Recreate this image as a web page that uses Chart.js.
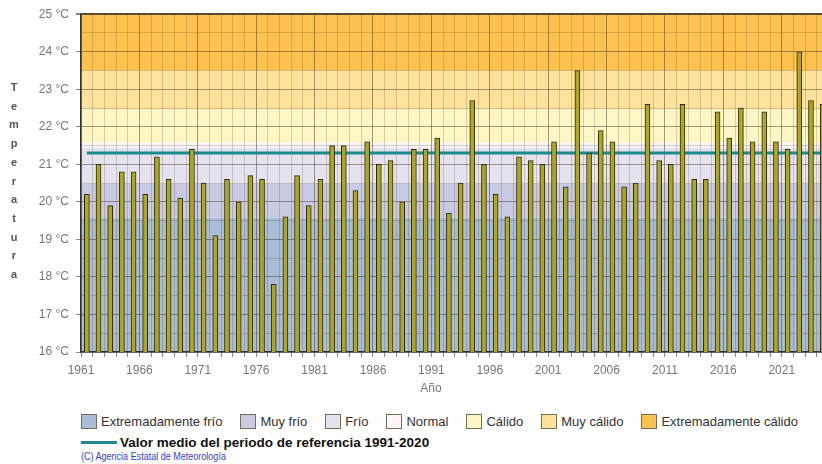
<!DOCTYPE html>
<html>
<head>
<meta charset="utf-8">
<script src="https://cdn.jsdelivr.net/npm/chart.js@4/dist/chart.umd.min.js"></script>
<style>
    body { margin: 0; background: #fff; width: 822px; height: 464px; overflow: hidden; font-family: "Liberation Sans", Arial, sans-serif; }
    #marco { position: absolute; left: 0; top: 0; width: 822px; height: 405px; overflow: hidden; }
    #leyenda { position: absolute; left: 81px; top: 414px; display: flex; align-items: center; font-size: 13px; color: #333; white-space: nowrap; }
    .item { display: flex; align-items: center; margin-right: 18px; }
    .cuadro { width: 14px; height: 13px; border: 1px solid #766b55; margin-right: 4px; }
    #media { position: absolute; left: 81px; top: 435px; display: flex; align-items: center; font-size: 13.5px; font-weight: bold; color: #111; white-space: nowrap; }
    #media .linea { width: 36px; height: 3px; background: #1b8b8e; margin-right: 3px; }
    #copy { position: absolute; left: 81px; top: 450px; font-size: 11px; color: #3d3dcc; white-space: nowrap; transform: scaleX(0.82); transform-origin: left center; }
</style>
</head>
<body>
<div id="marco"><canvas id="myChart" width="842" height="400"></canvas></div>
<div id="leyenda"></div>
<div id="media"><div class="linea"></div>Valor medio del periodo de referencia 1991-2020</div>
<div id="copy">(C) Agencia Estatal de Meteorología</div>
<script>
const years = ["1961", "1962", "1963", "1964", "1965", "1966", "1967", "1968", "1969", "1970",
    "1971", "1972", "1973", "1974", "1975", "1976", "1977", "1978", "1979", "1980",
    "1981", "1982", "1983", "1984", "1985", "1986", "1987", "1988", "1989", "1990",
    "1991", "1992", "1993", "1994", "1995", "1996", "1997", "1998", "1999", "2000",
    "2001", "2002", "2003", "2004", "2005", "2006", "2007", "2008", "2009", "2010",
    "2011", "2012", "2013", "2014", "2015", "2016", "2017", "2018", "2019", "2020",
    "2021", "2022", "2023", "2024"]
const temps = [20.2, 21.0, 19.9, 20.8, 20.8, 20.2, 21.2, 20.6, 20.1, 21.4,
    20.5, 19.1, 20.6, 20.0, 20.7, 20.6, 17.8, 19.6, 20.7, 19.9,
    20.6, 21.5, 21.5, 20.3, 21.6, 21.0, 21.1, 20.0, 21.4, 21.4,
    21.7, 19.7, 20.5, 22.7, 21.0, 20.2, 19.6, 21.2, 21.1, 21.0,
    21.6, 20.4, 23.5, 21.3, 21.9, 21.6, 20.4, 20.5, 22.6, 21.1,
    21.0, 22.6, 20.6, 20.6, 22.4, 21.7, 22.5, 21.6, 22.4, 21.6,
    21.4, 24.0, 22.7, 22.6]
const refMean = 21.3

// limites de las clases (°C) y sus colores
const bandNames = ["Extremadamente frío", "Muy frío", "Frío", "Normal", "Cálido", "Muy cálido", "Extremadamente cálido"]
const bandLimits = [16, 19.58, 20.49, 21.45, 21.58, 22.47, 23.5, 25]
const bandColors = ["#a9bcd8", "#c9cae3", "#e6e3f1", "#fbf6f8", "#fff6c6", "#ffe39c", "#ffc24e"]

const yTicksMin = 16
const yTicksMax = 25

function iniciar_leyenda() {
    const ley = document.getElementById("leyenda")
    bandNames.forEach((n, i) => {
        const it = document.createElement("div")
        it.className = "item"
        it.innerHTML = '<div class="cuadro" style="background:' + bandColors[i] + '"></div>' + n
        ley.appendChild(it)
    })
}

const bandas = {
    id: "bandas",
    beforeDraw(chart) {
        const { ctx, chartArea, scales } = chart
        ctx.save()
        for (let i = 0; i < bandColors.length; i++) {
            const y1 = scales.y.getPixelForValue(bandLimits[i + 1])
            const y0 = scales.y.getPixelForValue(bandLimits[i])
            ctx.fillStyle = bandColors[i]
            ctx.fillRect(chartArea.left, y1, chartArea.right - chartArea.left, y0 - y1)
        }
        ctx.restore()
    },
    afterDraw(chart) {
        const ctx = chart.ctx
        ctx.save()
        ctx.fillStyle = "#555"
        ctx.font = "bold 11px 'Liberation Sans', Arial, sans-serif"
        ctx.textAlign = "center"
        ctx.textBaseline = "middle"
        "Temperatura".split("").forEach((c, i) => ctx.fillText(c, 14, 88 + i * 18.7))
        ctx.fillStyle = "#777"
        ctx.font = "12px 'Liberation Sans', Arial, sans-serif"
        ctx.fillText("Año", 431, 389)
        ctx.restore()
    }
}

function my_bar_chart() {
    new Chart("myChart", {
        type: "bar",
        data: {
            labels: years,
            datasets: [{
                type: "bar",
                data: temps,
                backgroundColor: "#aea624",
                borderColor: "#2e2a06",
                borderWidth: 1,
                borderSkipped: "bottom",
                barThickness: 5,
                order: 0
            }, {
                type: "line",
                data: years.map(() => refMean),
                borderColor: "#1b8b8e",
                borderWidth: 3,
                pointRadius: 0,
                order: 1
            }]
        },
        plugins: [bandas],
        options: {
            responsive: false,
            animation: false,
            layout: { padding: { top: 13, right: 13.5, left: 0, bottom: 0 } },
            scales: {
                x: {
                    offset: true,
                    afterFit: (s) => { s.height = 48 },
                    grid: {
                        offset: true,
                        tickLength: 5,
                        tickColor: "#888",
                        color: (c) => c.index % 5 === 0 ? "rgba(70,60,40,0.5)" : "rgba(70,60,40,0.22)"
                    },
                    border: { color: "#333", width: 1.5 },
                    ticks: {
                        autoSkip: false,
                        maxRotation: 0,
                        minRotation: 0,
                        padding: 6,
                        labelOffset: -5.84,
                        color: "#777",
                        font: { size: 12, family: "'Liberation Sans', Arial, sans-serif" },
                        callback: (v, i) => i % 5 === 0 ? years[i] : ""
                    }
                },
                y: {
                    min: yTicksMin,
                    max: yTicksMax,
                    afterFit: (s) => { s.width = 81 },
                    grid: {
                        tickLength: 5,
                        tickColor: (c) => Number.isInteger(c.tick.value) ? "#888" : "rgba(0,0,0,0)",
                        color: (c) => c.tick.value === yTicksMax ? "#5a4a30" :
                            (Number.isInteger(c.tick.value) ? "rgba(70,60,40,0.5)" : "rgba(70,60,40,0.22)"),
                        lineWidth: (c) => c.tick.value === yTicksMax ? 2 : 1
                    },
                    border: { color: "#333", width: 1.5 },
                    ticks: {
                        stepSize: 0.5,
                        autoSkip: false,
                        padding: 7,
                        color: "#777",
                        font: { size: 12, family: "'Liberation Sans', Arial, sans-serif" },
                        callback: (v) => Number.isInteger(v) ? v + " °C" : ""
                    }
                }
            },
            plugins: {
                legend: { display: false },
                tooltip: { enabled: false }
            }
        }
    })
}

iniciar_leyenda()
my_bar_chart()
</script>
</body>
</html>
